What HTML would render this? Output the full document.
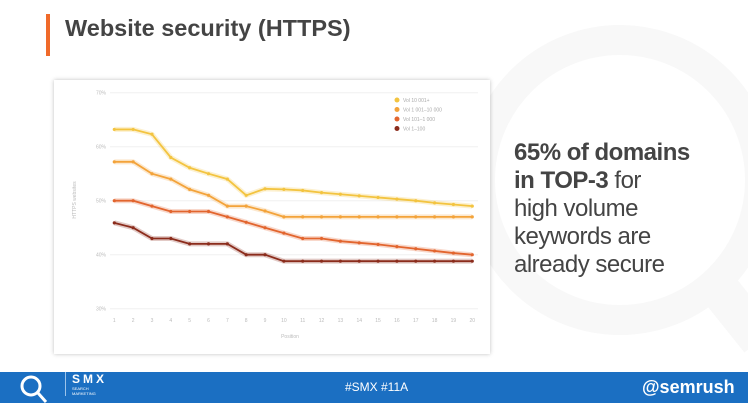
<!DOCTYPE html>
<html><head><meta charset="utf-8"><style>
body{margin:0;width:748px;height:403px;overflow:hidden;background:#fff;font-family:"Liberation Sans",sans-serif;position:relative}
.t{position:absolute}
</style></head><body>
<svg class="t" style="left:0;top:0" width="748" height="403">
<circle cx="620" cy="180" r="140" fill="none" stroke="#f8f8f8" stroke-width="30"/>
<line x1="720" y1="290" x2="760" y2="340" stroke="#f8f8f8" stroke-width="40"/>
</svg>
<div class="t" style="left:46px;top:14px;width:4px;height:42px;background:#f06a2a"></div>
<div class="t" style="left:65px;top:15px;font-size:23.5px;font-weight:bold;color:#444">Website security (HTTPS)</div>
<div class="t" style="left:54px;top:80px;width:436px;height:274px;background:#fff;box-shadow:0 0 4px rgba(0,0,0,0.25)"></div>
<svg class="t" id="chart" style="left:0;top:0" width="748" height="403"></svg>
<div class="t" style="left:514px;top:139px;font-size:24px;line-height:28px;color:#444;letter-spacing:-0.5px">
<b>65% of domains<br>in TOP-3</b> for<br>high volume<br>keywords are<br>already secure</div>
<div class="t" style="left:0;top:372px;width:748px;height:31px;background:#1b6fc2"></div>
<svg class="t" style="left:14px;top:372px" width="40" height="31"><circle cx="17" cy="14" r="9" fill="none" stroke="#fff" stroke-width="3"/><line x1="24" y1="21" x2="32" y2="30" stroke="#fff" stroke-width="3"/></svg>
<div class="t" style="left:65px;top:372px;border-left:1px solid #9cc3ea;padding-left:6px;color:#fff;font-weight:bold;font-size:12px;letter-spacing:3px">SMX<div style="font-size:4px;letter-spacing:0;font-weight:normal">SEARCH<br>MARKETING</div></div>
<div class="t" style="left:345px;top:380px;color:#fff;font-size:12px">#SMX #11A</div>
<div class="t" style="left:642px;top:377px;color:#fff;font-size:18px;font-weight:bold">@semrush</div>
<script>
const positions=[1,2,3,4,5,6,7,8,9,10,11,12,13,14,15,16,17,18,19,20];
const yTicks=[30,40,50,60,70];
const seriesNames=["Vol 10 001+","Vol 1 001–10 000","Vol 101–1 000","Vol 1–100"];
const seriesColors=["#f3c440","#f3a33a","#e2652e","#8b2c1c"];
const s1=[63.2,63.2,62.3,58,56.1,55,54,51,52.2,52.1,51.9,51.5,51.2,50.9,50.6,50.3,50,49.6,49.3,49];
const s2=[57.2,57.2,55,54,52.1,51,49,49,48.1,47,47,47,47,47,47,47,47,47,47,47];
const s3=[50,50,49,48,48,48,47,46,45,44,43,43,42.5,42.2,41.9,41.5,41.1,40.7,40.3,40];
const s4=[45.9,45,43,43,42,42,42,40,40,38.8,38.8,38.8,38.8,38.8,38.8,38.8,38.8,38.8,38.8,38.8];
const series=[s1,s2,s3,s4];
const svg=document.getElementById('chart');const NS='http://www.w3.org/2000/svg';
const x=p=>114.3+(p-1)*18.84;const y=v=>308.7-(v-30)*5.4;
function mk(t,a){const e=document.createElementNS(NS,t);for(const k in a)e.setAttribute(k,a[k]);svg.appendChild(e);return e;}
yTicks.forEach(v=>{const l=mk('line',{x1:110,x2:478,y1:y(v),y2:y(v),stroke:'#f0f0f0'});


const t=mk('text',{x:106,y:y(v)+2,'font-size':5,fill:'#bbb','text-anchor':'end'});t.textContent=v+'%';

});
positions.forEach(p=>{const t=mk('text',{x:x(p),y:322,'font-size':5,fill:'#bbb','text-anchor':'middle'});t.textContent=p;

});
const xt=mk('text',{x:290,y:338,'font-size':5,fill:'#bbb','text-anchor':'middle'});xt.textContent='Position';


const yt=mk('text',{x:0,y:0,'font-size':5,fill:'#bbb','text-anchor':'middle',transform:'translate(76,200) rotate(-90)'});yt.textContent='HTTPS websites';


series.forEach((s,i)=>{const pts=s.map((v,j)=>x(positions[j])+','+y(v)).join(' ');
const g=mk('polyline',{points:pts,fill:'none',stroke:seriesColors[i],'stroke-opacity':0.25,'stroke-width':5});


const l=mk('polyline',{points:pts,fill:'none',stroke:seriesColors[i],'stroke-width':1.8});


s.forEach((v,j)=>{const c=mk('circle',{cx:x(positions[j]),cy:y(v),r:1.6,fill:seriesColors[i]});

});
const lc=mk('circle',{cx:397,cy:100+i*9.5,r:2.5,fill:seriesColors[i]});


const lt=mk('text',{x:403,y:102+i*9.5,'font-size':5,fill:'#aaa'});lt.textContent=seriesNames[i];

});
</script>
</body></html>
